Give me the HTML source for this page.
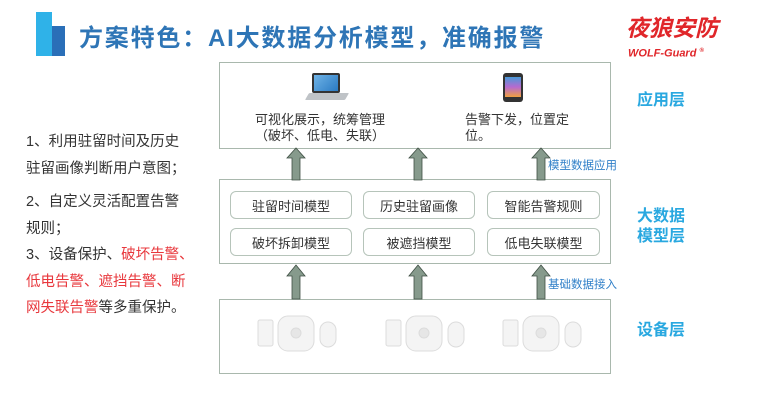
<!DOCTYPE html>
<html><head><meta charset="utf-8"><style>
*{margin:0;padding:0;box-sizing:border-box}
body{width:760px;height:402px;background:#fff;position:relative;overflow:hidden;font-family:"Liberation Sans","Noto Sans CJK SC",sans-serif;color:#333}
.a{position:absolute}
.box{position:absolute;border:1.5px solid #a9b8ad;background:#fff}
.ib{position:absolute;border:1.5px solid #b6c4ba;border-radius:6px;font-size:13px;color:#333;display:flex;align-items:center;justify-content:center;background:#fff}
.lt{position:absolute;left:26px;font-size:14.5px;line-height:26.5px;color:#333;white-space:nowrap}
.r{color:#e8383d}
.lab{position:absolute;left:637px;font-size:16px;font-weight:bold;color:#29a8e0;line-height:20px}
.blu{position:absolute;font-size:11.5px;color:#2f7fc8;white-space:nowrap}
</style></head><body>
<div class="a" style="left:36px;top:12px;width:16px;height:44px;background:#2fb2e8"></div>
<div class="a" style="left:52px;top:26px;width:13px;height:30px;background:#2a6fb8"></div>
<div class="a" style="left:79px;top:18px;font-size:24px;color:#2e75b6;font-weight:bold;white-space:nowrap;letter-spacing:1.8px">方案特色：AI大数据分析模型，准确报警</div>
<div class="a" style="left:626px;top:14px;font-size:23px;font-weight:bold;font-style:italic;color:#e0262a;white-space:nowrap;line-height:28px">夜狼安防</div>
<div class="a" style="left:628px;top:45px;font-size:11px;font-weight:bold;font-style:italic;color:#e0262a;white-space:nowrap;line-height:12px">WOLF-Guard <sup style="font-size:6px">®</sup></div>

<div class="box" style="left:219px;top:62px;width:392px;height:87px"></div>
<div class="box" style="left:219px;top:179px;width:392px;height:85px"></div>
<div class="box" style="left:219px;top:299px;width:392px;height:75px"></div>

<div class="a" style="left:312px;top:73px;width:28px;height:20px;background:#333;border-radius:2px"></div>
<div class="a" style="left:314px;top:75px;width:24px;height:16px;background:linear-gradient(135deg,#6fb3e6,#2a7ac3)"></div>
<div class="a" style="left:307px;top:93px;width:40px;height:7px;background:#bfc3c7;transform:skewX(-30deg);border-radius:1px"></div>
<div class="a" style="left:503px;top:73px;width:20px;height:29px;background:#333;border-radius:3px"></div>
<div class="a" style="left:505px;top:77px;width:16px;height:20px;background:linear-gradient(#4a9ad8,#b66ad0,#f0a040)"></div>

<div class="a" style="left:255px;top:112px;font-size:13px;line-height:16px;color:#333;white-space:nowrap">可视化展示，统筹管理<br>（破坏、低电、失联）</div>
<div class="a" style="left:465px;top:112px;font-size:13px;line-height:16px;color:#333;white-space:nowrap">告警下发，位置定<br>位。</div>

<div class="ib" style="left:230px;top:191px;width:122px;height:28px">驻留时间模型</div>
<div class="ib" style="left:363px;top:191px;width:112px;height:28px">历史驻留画像</div>
<div class="ib" style="left:487px;top:191px;width:113px;height:28px">智能告警规则</div>
<div class="ib" style="left:230px;top:228px;width:122px;height:28px">破坏拆卸模型</div>
<div class="ib" style="left:363px;top:228px;width:112px;height:28px">被遮挡模型</div>
<div class="ib" style="left:487px;top:228px;width:113px;height:28px">低电失联模型</div>

<svg class="a" style="left:0;top:0" width="760" height="402">
<g fill="#869a8c" stroke="#3f4f44" stroke-width="0.8">
<polygon points="292,180 292,158 287,158 296,148 305,158 300,158 300,180"/>
<polygon points="414,180 414,158 409,158 418,148 427,158 422,158 422,180"/>
<polygon points="537,180 537,158 532,158 541,148 550,158 545,158 545,180"/>
<polygon points="292,299 292,276 287,276 296,265 305,276 300,276 300,299"/>
<polygon points="414,299 414,276 409,276 418,265 427,276 422,276 422,299"/>
<polygon points="537,299 537,276 532,276 541,265 550,276 545,276 545,299"/>
</g>
<g fill="#f4f4f4" stroke="#dcdcdc" stroke-width="1">
<g id="d"><rect x="258" y="320" width="15" height="26" rx="2"/><rect x="278" y="316" width="36" height="35" rx="10"/><circle cx="296" cy="333" r="5" fill="#e6e6e6"/><rect x="320" y="322" width="16" height="25" rx="8"/></g>
<use href="#d" x="128"/><use href="#d" x="245"/>
</g>
</svg>

<div class="blu" style="left:548px;top:157px">模型数据应用</div>
<div class="blu" style="left:548px;top:276px">基础数据接入</div>

<div class="lab" style="top:91px">应用层</div>
<div class="lab" style="top:207px">大数据<br>模型层</div>
<div class="lab" style="top:321px">设备层</div>

<div class="lt" style="top:129px">1、利用驻留时间及历史<br>驻留画像判断用户意图；</div>
<div class="lt" style="top:189px">2、自定义灵活配置告警<br>规则；</div>
<div class="lt" style="top:242px">3、设备保护、<span class="r">破坏告警、</span><br><span class="r">低电告警、遮挡告警、断</span><br><span class="r">网失联告警</span>等多重保护。</div>
</body></html>
